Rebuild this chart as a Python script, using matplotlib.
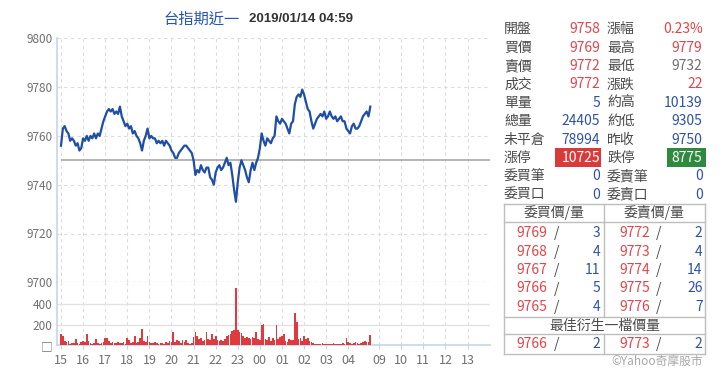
import numpy as np
import matplotlib
matplotlib.use("Agg")
import matplotlib.pyplot as plt
from matplotlib.lines import Line2D
from matplotlib.patches import Rectangle

plt.rcParams['font.family'] = ['Noto Sans CJK TC', 'DejaVu Sans']

# ---- data ---------------------------------------------------------------
# night session, minutes after 15:00, one sample every 5 minutes
minutes = np.arange(0, 841, 5)

price = [
    9756, 9763, 9764, 9762, 9761, 9758, 9759, 9758, 9756, 9757,
    9754, 9755, 9759, 9758, 9760, 9758, 9760, 9759, 9761, 9759,
    9761, 9760, 9763, 9766, 9768, 9770, 9771, 9770, 9771, 9769,
    9770, 9769, 9772, 9768, 9766, 9764, 9765, 9763, 9764, 9761,
    9762, 9760, 9759, 9757, 9754, 9758, 9760, 9763, 9759, 9760,
    9759, 9759, 9757, 9758, 9757, 9758, 9756, 9758, 9757, 9756,
    9754, 9753, 9751, 9751, 9753, 9754, 9755, 9756, 9756, 9755,
    9754, 9753, 9750, 9744, 9746, 9745, 9748, 9746, 9745, 9747,
    9747, 9743, 9742, 9740, 9745, 9747, 9748, 9746, 9747, 9749,
    9751, 9748, 9749, 9744, 9738, 9733, 9741, 9747, 9750, 9748,
    9746, 9743, 9741, 9746, 9749, 9746, 9749, 9751, 9755, 9761,
    9758, 9756, 9759, 9758, 9757, 9759, 9760, 9768, 9766, 9765,
    9767, 9766, 9765, 9763, 9761, 9765, 9766, 9773, 9776, 9777,
    9776, 9779, 9777, 9774, 9771, 9770, 9766, 9763, 9765, 9767,
    9768, 9769, 9768, 9770, 9767, 9768, 9770, 9768, 9767, 9768,
    9766, 9767, 9768, 9766, 9766, 9763, 9762, 9761, 9764, 9765,
    9763, 9763, 9764, 9766, 9768, 9769, 9770, 9768, 9772,
]

volume = [
    110, 90, 45, 30, 40, 15, 20, 25, 60, 20,
    15, 30, 40, 35, 115, 40, 20, 15, 25, 60,
    20, 15, 25, 30, 75, 70, 40, 20, 35, 25,
    20, 30, 25, 20, 30, 15, 70, 50, 20, 30,
    95, 25, 30, 70, 155, 40, 35, 90, 30, 25,
    20, 35, 20, 15, 25, 20, 15, 30, 20, 40,
    35, 130, 30, 50, 40, 25, 50, 30, 55, 20,
    15, 20, 80, 130, 90, 60, 70, 45, 55, 125,
    60, 50, 110, 60, 90, 50, 40, 50, 45, 60,
    90, 100, 110, 140, 150, 560, 145, 130, 120, 90,
    70, 80, 75, 60, 85, 70, 130, 60, 50, 200,
    210, 60, 50, 80, 45, 70, 50, 200, 60, 80,
    90, 110, 40, 35, 60, 50, 55, 320, 230, 60,
    70, 40, 90, 60, 75, 45, 30, 20, 15, 10,
    10, 15, 25, 15, 10, 10, 15, 10, 20, 15,
    10, 10, 15, 20, 15, 70, 35, 25, 15, 20,
    30, 25, 15, 20, 35, 40, 30, 35, 100,
]

prev_close = 9750

night_hours = ['15', '16', '17', '18', '19', '20', '21', '22', '23',
               '00', '01', '02', '03', '04']
day_hours = ['09', '10', '11', '12', '13']

left_labels = ['開盤', '買價', '賣價', '成交', '單量', '總量', '未平倉',
               '漲停', '委買筆', '委買口']
left_values = ['9758', '9769', '9772', '9772', '5', '24405', '78994',
               '10725', '0', '0']
right_labels = ['漲幅', '最高', '最低', '漲跌', '約高', '約低', '昨收',
                '跌停', '委賣筆', '委賣口']
right_values = ['0.23%', '9779', '9732', '22', '10139', '9305', '9750',
                '8775', '0', '0']

bid_price = [9769, 9768, 9767, 9766, 9765]
bid_qty = [3, 4, 11, 5, 4]
ask_price = [9772, 9773, 9774, 9775, 9776]
ask_qty = [2, 4, 14, 26, 7]
best_bid = (9766, 2)
best_ask = (9773, 2)

# ---- colours ------------------------------------------------------------
RED = '#e5444b'
BLUE = '#2f52a6'
GRAY = '#707070'
LABEL = '#4a4a4a'
LINE_BLUE = '#1f4ea6'
SPINE = '#c5d5e8'
GRID = '#dcdcdc'

W, H = 720, 385


def fx(px):
    return px / W


def fy(py):
    return 1 - py / H


fig = plt.figure(figsize=(7.2, 3.85), dpi=100)

ax_p = fig.add_axes([fx(56.7), fy(282.3), fx(490) - fx(56.7),
                     fy(38.3) - fy(282.3)])
ax_v = fig.add_axes([fx(56.7), fy(345.3), fx(490) - fx(56.7),
                     fy(282.3) - fy(345.3)])

xmin, xmax = -11.7, 1165
hour_pos = [60 * i for i in range(len(night_hours))] + \
    [864 + 60 * i for i in range(len(day_hours))]
hour_lab = night_hours + day_hours

for ax in (ax_p, ax_v):
    ax.set_xlim(xmin, xmax)
    for s in ('top', 'right'):
        ax.spines[s].set_visible(False)
    ax.spines['left'].set_color(SPINE)
    ax.spines['left'].set_linewidth(1.2)
    for p in hour_pos:
        ax.axvline(p, color=GRID, lw=0.8, ls=(0, (3, 3)), zorder=0)
    ax.tick_params(axis='y', length=0, labelsize=8.5, labelcolor=GRAY,
                   pad=3)

# price panel
ax_p.spines['bottom'].set_visible(False)
ax_p.set_ylim(9700, 9800)
ax_p.set_yticks([9700, 9720, 9740, 9760, 9780, 9800])
ax_p.set_xticks([])
for v in [9720, 9740, 9760, 9780, 9800]:
    ax_p.axhline(v, color=GRID, lw=0.8, ls=(0, (3, 3)), zorder=0)
ax_p.axhline(9700, color='#c8c8c8', lw=0.9, ls=(0, (3, 2)), zorder=0)
ax_p.hlines(prev_close, 0, xmax, color='#a8a8a8', lw=1.2, zorder=1)
ax_p.plot(minutes, price, color=LINE_BLUE, lw=1.6, zorder=3)

# volume panel
ax_v.set_ylim(0, 615)
ax_v.set_yticks([0, 200, 400])
ax_v.set_yticklabels(['□', '200', '400'])
for v in [200, 400]:
    ax_v.axhline(v, color='#e2e2e2', lw=1.0, zorder=0)
ax_v.spines['bottom'].set_color(SPINE)
ax_v.spines['bottom'].set_linewidth(1.2)
ax_v.bar(minutes, volume, width=4.6, color='#e03a3e', linewidth=0,
         zorder=3)
ax_v.set_xticks(hour_pos)
ax_v.set_xticklabels(hour_lab)
ax_v.tick_params(axis='x', length=3, color=SPINE, labelsize=9,
                 labelcolor=GRAY, pad=3)

# title
fig.text(fx(163), fy(19), '台指期近一', color='#2553b3', fontsize=11,
         va='center', ha='left')
fig.text(fx(249), fy(19), '2019/01/14 04:59', color='#333333',
         fontsize=9.5, fontweight='bold', family='Liberation Sans',
         va='center', ha='left')

# quote table
row0, dy = 29.3, 18.4
left_cols = [RED, RED, RED, RED, BLUE, BLUE, BLUE, 'white', BLUE, BLUE]
right_cols = [RED, RED, GRAY, RED, BLUE, BLUE, BLUE, 'white', BLUE, BLUE]
for i in range(len(left_labels)):
    y = fy(row0 + dy * i)
    fig.text(fx(504), y, left_labels[i], color=LABEL, fontsize=10,
             va='center', ha='left')
    fig.text(fx(600), y, left_values[i], color=left_cols[i], fontsize=10,
             va='center', ha='right')
    fig.text(fx(607), y, right_labels[i], color=LABEL, fontsize=10,
             va='center', ha='left')
    fig.text(fx(702.5), y, right_values[i], color=right_cols[i],
             fontsize=10, va='center', ha='right')

fig.add_artist(Rectangle((fx(555), fy(166.7)), fx(601) - fx(555),
                         fy(148.3) - fy(166.7), transform=fig.transFigure,
                         facecolor='#d93b3b', edgecolor='none', zorder=0))
fig.add_artist(Rectangle((fx(666.7), fy(166.7)), fx(705.7) - fx(666.7),
                         fy(148.3) - fy(166.7), transform=fig.transFigure,
                         facecolor='#2f8a40', edgecolor='none', zorder=0))

# bid / ask table
TL = '#bdbdbd'


def hline(py, x0=504.3, x1=704.7):
    fig.add_artist(Line2D([fx(x0), fx(x1)], [fy(py), fy(py)], color=TL,
                          lw=1, transform=fig.transFigure))


def vline(px, y0, y1):
    fig.add_artist(Line2D([fx(px), fx(px)], [fy(y0), fy(y1)], color=TL,
                          lw=1, transform=fig.transFigure))


for py in (204, 222.3, 317.3, 334.3, 354.3):
    hline(py)
vline(504.3, 204, 354.3)
vline(704.7, 204, 354.3)
vline(603.7, 204, 317.3)
vline(603.7, 334.3, 354.3)

fig.text(fx(554), fy(213), '委買價/量', color=LABEL, fontsize=10,
         ha='center', va='center')
fig.text(fx(654), fy(213), '委賣價/量', color=LABEL, fontsize=10,
         ha='center', va='center')
fig.text(fx(604.5), fy(326), '最佳衍生一檔價量', color=LABEL, fontsize=10,
         ha='center', va='center')


def quote_row(py, bp, bq, ap, aq):
    y = fy(py)
    fig.text(fx(516), y, str(bp), color=RED, fontsize=10, va='center')
    fig.text(fx(557), y, '/', color=LABEL, fontsize=10, va='center',
             ha='center')
    fig.text(fx(600), y, str(bq), color=BLUE, fontsize=10, va='center',
             ha='right')
    fig.text(fx(619), y, str(ap), color=RED, fontsize=10, va='center')
    fig.text(fx(659), y, '/', color=LABEL, fontsize=10, va='center',
             ha='center')
    fig.text(fx(702.5), y, str(aq), color=BLUE, fontsize=10, va='center',
             ha='right')


for i in range(len(bid_price)):
    quote_row(233.3 + dy * i, bid_price[i], bid_qty[i], ask_price[i],
              ask_qty[i])
quote_row(344.3, best_bid[0], best_bid[1], best_ask[0], best_ask[1])

fig.text(fx(703), fy(361), '©Yahoo奇摩股市', color='#a8a8a8', fontsize=8.5,
         ha='right', va='center')

fig.savefig('out.png', dpi=100)
